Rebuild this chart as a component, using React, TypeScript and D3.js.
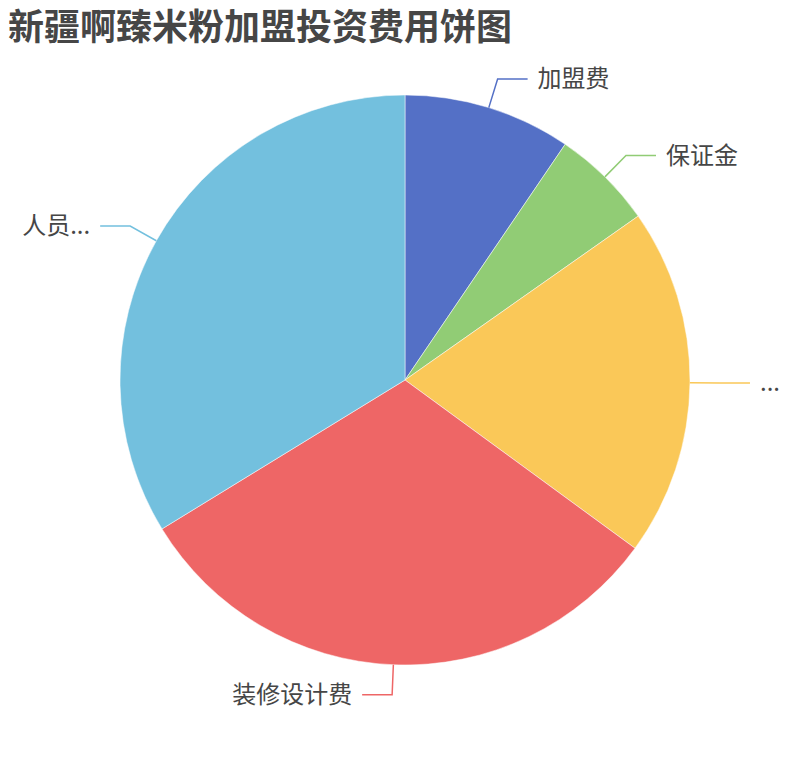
import React from 'react';
import * as d3 from 'd3';

// categories as they are shown on the chart (two labels are truncated)
const labels = ['加盟费', '保证金', '...', '装修设计费', '人员...'];
// share of the total investment, in percent
const values = [9.5, 5.75, 19.8, 31.2, 33.75];
const colors = ['#5470c6', '#91cc75', '#fac858', '#ee6666', '#73c0de'];

const title = '新疆啊臻米粉加盟投资费用饼图';

export default function App() {
  const width = 810;
  const height = 760;
  const cx = 405;
  const cy = 380;
  const radius = 285;
  const len1 = 30;
  const len2 = 30;

  const data = labels.map((label, i) => ({ label, value: values[i], color: colors[i] }));
  const arcs = d3.pie<{ label: string; value: number; color: string }>()
    .value(d => d.value)
    .sort(null)(data);

  const arc = d3.arc<d3.PieArcDatum<{ label: string; value: number; color: string }>>()
    .innerRadius(0)
    .outerRadius(radius);

  const font = '"Noto Sans CJK SC", "Noto Sans", sans-serif';

  return (
    <div style={{ position: 'absolute', left: 0, top: 0 }}>
      <svg width={width} height={height} style={{ display: 'block', background: '#fff' }}>
        <text x={8} y={40} fontFamily={font} fontSize={36} fontWeight="bold" fill="#464646">
          {title}
        </text>
        <g transform={`translate(${cx},${cy})`}>
          {arcs.map((a, i) => (
            <path key={i} d={arc(a) || ''} fill={a.data.color} stroke="#fff" strokeWidth={0.5} />
          ))}
          {arcs.map((a, i) => {
            const mid = (a.startAngle + a.endAngle) / 2;
            const sx = Math.sin(mid);
            const sy = -Math.cos(mid);
            const right = sx >= 0;
            const p0 = [sx * radius, sy * radius];
            const p1 = [sx * (radius + len1), sy * (radius + len1)];
            const p2 = [p1[0] + (right ? len2 : -len2), p1[1]];
            const tx = p2[0] + (right ? 10 : -10);
            return (
              <g key={`l${i}`}>
                <polyline
                  points={[p0, p1, p2].map(p => p.join(',')).join(' ')}
                  fill="none"
                  stroke={a.data.color}
                  strokeWidth={1.5}
                />
                <text
                  x={tx}
                  y={p2[1]}
                  dy="0.35em"
                  textAnchor={right ? 'start' : 'end'}
                  fontFamily={font}
                  fontSize={24}
                  fill="#464646"
                >
                  {a.data.label}
                </text>
              </g>
            );
          })}
        </g>
      </svg>
    </div>
  );
}
